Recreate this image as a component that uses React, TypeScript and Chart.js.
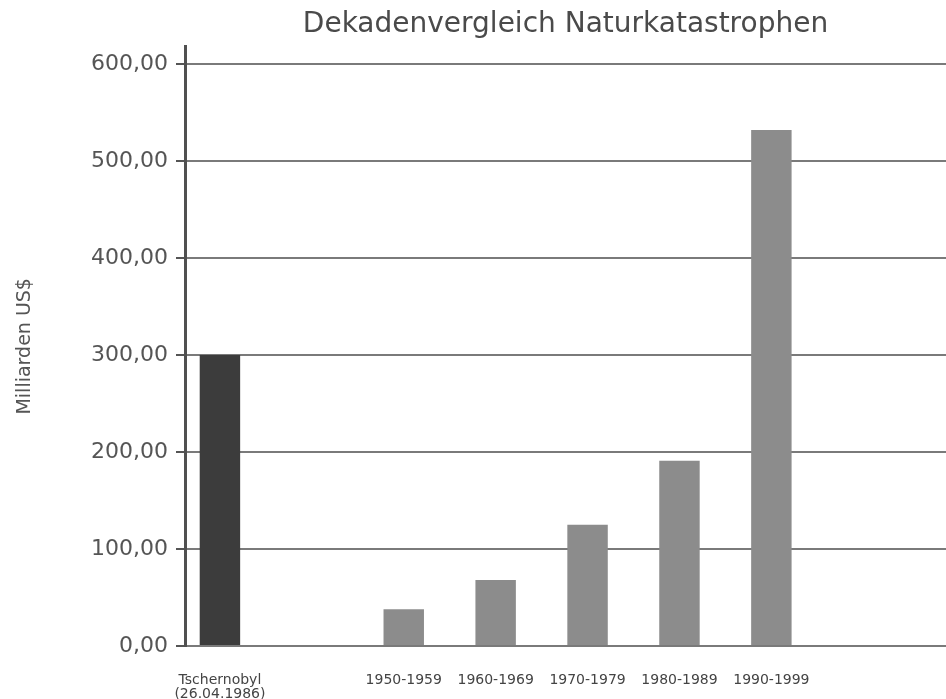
import React, { useEffect, useRef } from 'react';
import { Chart, registerables } from 'chart.js';

Chart.register(...registerables);

const chartTitle = 'Dekadenvergleich Naturkatastrophen';
const yAxisTitle = 'Milliarden US$';
const categories: (string | string[])[] = [
  ['Tschernobyl', '(26.04.1986)'],
  '',
  '1950-1959',
  '1960-1969',
  '1970-1979',
  '1980-1989',
  '1990-1999',
];
const tschernobylValues: (number | null)[] = [300, null, null, null, null, null, null];
const decadeValues: (number | null)[] = [null, null, 38, 68, 125, 191, 532];
const yTicks = [0, 100, 200, 300, 400, 500, 600];

const FONT = "'DejaVu Sans', sans-serif";

function toPoints(vals: (number | null)[]) {
  const pts: { x: number; y: number }[] = [];
  vals.forEach((v, i) => {
    if (v !== null) pts.push({ x: i, y: v });
  });
  return pts;
}

export default function App() {
  const canvasRef = useRef<HTMLCanvasElement | null>(null);

  useEffect(() => {
    if (!canvasRef.current) return;
    const chart = new Chart(canvasRef.current, {
      type: 'bar',
      data: {
        datasets: [
          {
            label: 'Tschernobyl',
            data: toPoints(tschernobylValues) as any,
            backgroundColor: '#3c3c3c',
            grouped: false,
            categoryPercentage: 1,
            barPercentage: 0.44,
          },
          {
            label: 'Naturkatastrophen',
            data: toPoints(decadeValues) as any,
            backgroundColor: '#8c8c8c',
            grouped: false,
            categoryPercentage: 1,
            barPercentage: 0.44,
          },
        ] as any,
      },
      options: {
        animation: false,
        responsive: true,
        maintainAspectRatio: false,
        layout: { padding: 0 },
        plugins: {
          legend: { display: false },
          tooltip: { enabled: false },
          title: {
            display: true,
            text: chartTitle,
            fullSize: false,
            color: '#4a4a4a',
            font: { family: FONT, size: 28, weight: 'normal' },
            padding: { top: 8, bottom: 5 },
          },
        },
        scales: {
          x: {
            type: 'linear',
            offset: false,
            min: -0.38,
            max: 7.9,
            grid: { display: false, drawTicks: false, offset: false },
            border: { display: false },
            ticks: {
              autoSkip: false,
              maxRotation: 0,
              minRotation: 0,
              padding: 27,
              color: '#444',
              font: { family: FONT, size: 14, lineHeight: 1 },
              callback: (v: any) => {
                const c = categories[v as number];
                return c === undefined ? '' : c;
              },
            },
            afterBuildTicks: (s: any) => {
              s.ticks = categories.map((_, i) => ({ value: i }));
            },
            afterFit: (s: any) => {
              s.height = 53;
            },
          },
          y: {
            min: 0,
            max: 618,
            ticks: {
              includeBounds: false,
              padding: 8,
              color: '#555',
              font: { family: FONT, size: 22 },
              callback: (v: any) => Number(v).toFixed(2).replace('.', ','),
            },
            afterBuildTicks: (s: any) => {
              s.ticks = yTicks.map((v) => ({ value: v }));
            },
            grid: {
              color: '#7a7a7a',
              lineWidth: 2,
              tickColor: '#555',
              tickLength: 9,
              tickWidth: 2,
            },
            border: { display: true, color: '#505050', width: 3 },
            title: {
              display: true,
              text: yAxisTitle,
              color: '#555',
              font: { family: FONT, size: 19 },
              padding: { top: 14, bottom: 0 },
            },
            afterFit: (s: any) => {
              s.width = 185;
            },
          },
        },
      } as any,
    });
    return () => chart.destroy();
  }, []);

  return (
    <div style={{ position: 'fixed', left: 0, top: 0, width: 946, height: 699, background: '#fff' }}>
      <canvas ref={canvasRef} />
    </div>
  );
}
